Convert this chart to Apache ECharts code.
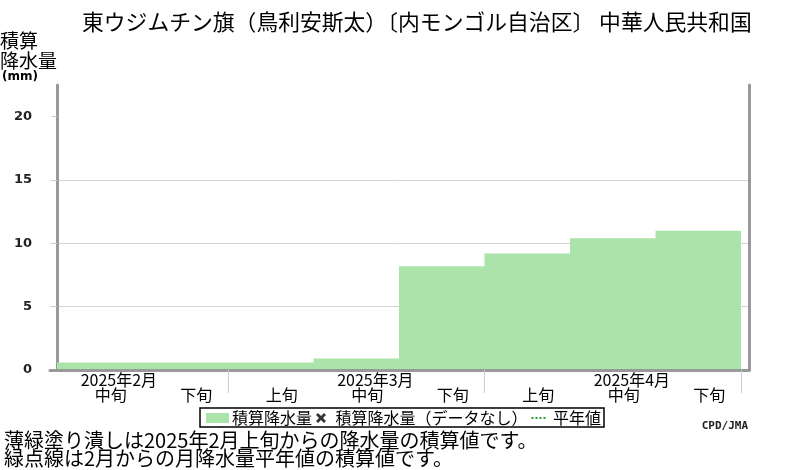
<!DOCTYPE html>
<html>
<head>
<meta charset="utf-8">
<script src="https://cdn.jsdelivr.net/npm/echarts@6/dist/echarts.min.js"></script>
<style>
  html, body { margin: 0; padding: 0; background: #fff; }
  #chart { width: 800px; height: 470px; }
</style>
</head>
<body>
<div id="chart"></div>
<script>
// decades shown on the x axis (Feb mid .. Apr late)
const periods = ["中旬", "下旬", "上旬", "中旬", "下旬", "上旬", "中旬", "下旬"];
const monthLabels = ["2025年2月", "", "", "2025年3月", "", "", "2025年4月", ""];
// accumulated precipitation (mm) at the end of each decade
const cumulative = [0.6, 0.6, 0.6, 0.9, 8.2, 9.2, 10.4, 11.0];
const normalValues = [];
const missingValues = [];
const monthTicks = [2, 5, 8];
const yTicks = [0, 5, 10, 15, 20];

const FONT = "Noto Sans CJK JP";
const GREEN = "#abe3aa";

const chart = echarts.init(document.getElementById("chart"));

const areaData = cumulative.map((v, i) => [i, v]);
areaData.push([cumulative.length, cumulative[cumulative.length - 1]]);

const options = {
  animation: false,
  textStyle: { fontFamily: FONT },
  title: [
    {
      text: "東ウジムチン旗（鳥利安斯太）〔内モンゴル自治区〕 中華人民共和国",
      left: 82,
      top: 11,
      padding: 0,
      textStyle: { fontFamily: FONT, fontSize: 21.8, fontWeight: "normal", color: "#000" },
    },
    {
      text: "{a|積算}\n{a|降水量}\n{b|(mm)}",
      left: 0,
      top: 31,
      padding: 0,
      textStyle: {
        rich: {
          a: { fontFamily: FONT, fontSize: 19, fontWeight: "normal", lineHeight: 20, color: "#000" },
          b: { fontFamily: "DejaVu Sans", fontSize: 12, fontWeight: "bold", lineHeight: 11, color: "#000", padding: [0, 0, 0, 2] },
        },
      },
    },
    {
      text: "薄緑塗り潰しは2025年2月上旬からの降水量の積算値です。\n緑点線は2月からの月降水量平年値の積算値です。",
      left: 4,
      top: 431,
      padding: 0,
      textStyle: { fontFamily: FONT, fontSize: 20, lineHeight: 18, fontWeight: "normal", color: "#000" },
    },
    {
      text: "CPD/JMA",
      right: 52,
      top: 421,
      padding: 0,
      textStyle: { fontFamily: "DejaVu Sans Mono", fontSize: 11, fontWeight: "bold", color: "#222" },
    },
  ],
  legend: {
    left: 200,
    top: 408,
    padding: [2, 3, 1, 6],
    itemGap: 4,
    itemWidth: 23,
    itemHeight: 10,
    borderColor: "#000",
    borderWidth: 1.5,
    textStyle: { fontFamily: FONT, fontSize: 16, color: "#000", padding: [0, 0, 0, -2] },
    data: [
      { name: "積算降水量", icon: "rect" },
      { name: "積算降水量（データなし）", icon: "path://M0 2L2 0L5 3L8 0L10 2L7 5L10 8L8 10L5 7L2 10L0 8L3 5Z" },
      { name: "平年値", icon: "path://M0 4h2v2H0zM4 4h2v2H4zM8 4h2v2H8zM12 4h2v2H12zM0 0h0.01v0.01H0zM0 10h0.01v0.01H0z" },
    ],
  },
  grid: { left: 50, right: 51, top: 85, bottom: 100 },
  xAxis: {
    type: "value",
    min: -7 / 85.5,
    max: 8 + 8 / 85.5,
    z: 5,
    axisLine: { onZero: false, lineStyle: { color: "#999", width: 3 } },
    axisTick: {
      customValues: monthTicks,
      length: 23,
      lineStyle: { color: "#ccc", width: 1 },
    },
    splitLine: { show: false },
    axisLabel: {
      customValues: periods.map((p, i) => i + 0.63),
      margin: 2,
      formatter: (value) => {
        const i = Math.floor(value);
        const m = monthLabels[i];
        return (m ? "{m|" + m + "}" : "{m| }") + "\n{d|" + periods[i] + "}";
      },
      rich: {
        m: { fontFamily: FONT, fontSize: 16, lineHeight: 15, color: "#000", padding: [0, 0, 0, 16] },
        d: { fontFamily: FONT, fontSize: 16, lineHeight: 15, color: "#000" },
      },
    },
  },
  yAxis: [
    {
      type: "value",
      min: 0,
      max: 22.5,
      interval: 5,
      axisLine: { show: true, lineStyle: { color: "#999", width: 3 } },
      axisTick: { show: true, customValues: yTicks, length: 5, lineStyle: { color: "#ccc" } },
      axisLabel: {
        customValues: yTicks,
        margin: 18,
        fontFamily: "DejaVu Sans",
        fontSize: 13,
        fontWeight: "bold",
        color: "#222",
      },
      splitLine: { show: true, showMinLine: false, showMaxLine: false, lineStyle: { color: "#d4d4d4", width: 1 } },
    },
    {
      type: "value",
      position: "right",
      min: 0,
      max: 22.5,
      axisLine: { show: true, lineStyle: { color: "#999", width: 3 } },
      axisTick: { show: false },
      axisLabel: { show: false },
      splitLine: { show: false },
    },
  ],
  series: [
    {
      name: "積算降水量",
      type: "line",
      step: "end",
      symbol: "none",
      data: areaData,
      itemStyle: { color: GREEN },
      lineStyle: { width: 0, color: GREEN },
      areaStyle: { color: GREEN, opacity: 1 },
      z: 2,
    },
    {
      name: "積算降水量（データなし）",
      type: "scatter",
      data: missingValues,
      itemStyle: { color: "#000" },
    },
    {
      name: "平年値",
      type: "line",
      symbol: "none",
      data: normalValues,
      itemStyle: { color: "#2a9a2a" },
      lineStyle: { type: "dotted", width: 2, color: "#2a9a2a" },
    },
  ],
};

chart.setOption(options);
</script>
</body>
</html>
